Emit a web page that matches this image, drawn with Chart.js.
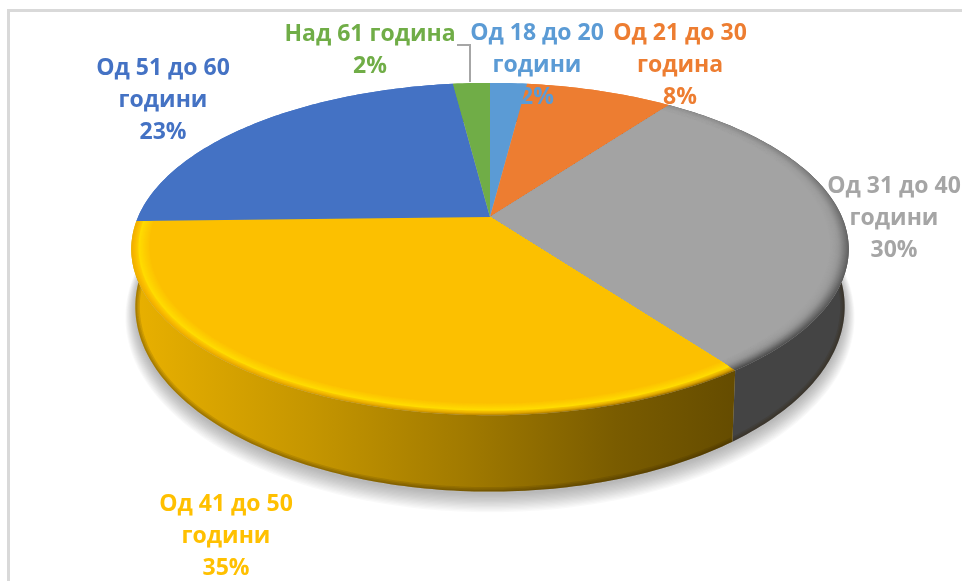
<!DOCTYPE html>
<html>
<head>
<meta charset="utf-8">
<script src="https://cdn.jsdelivr.net/npm/chart.js@4"></script>
<style>
    html, body { margin: 0; padding: 0; background: #fff; }
    #wrap { position: relative; width: 962px; height: 581px; overflow: hidden; }
</style>
</head>
<body>
<div id="wrap"><canvas id="age-chart" width="962" height="581"></canvas></div>
<script>
var categories = ["Од 18 до 20", "Од 21 до 30", "Од 31 до 40", "Од 41 до 50", "Од 51 до 60", "Над 61"];
var shares = [2, 8, 30, 34.6, 23.4, 2];
var labelTexts = [
    ["Од 18 до 20", "години", "2%"],
    ["Од 21 до 30", "година", "8%"],
    ["Од 31 до 40", "години", "30%"],
    ["Од 41 до 50", "години", "35%"],
    ["Од 51 до 60", "години", "23%"],
    ["Над 61 година", "2%"]
];
var sliceColors = ["#5B9BD5", "#ED7D31", "#A3A3A3", "#FCC000", "#4472C4", "#70AD47"];
var labelColors = ["#5B9BD5", "#ED7D31", "#A5A5A5", "#FFC000", "#4472C4", "#70AD47"];
var labelSpots = [[537, 33], [680, 33], [894, 186], [226, 504], [163, 68], [370, 34]];

// perspective of the disc, fitted by eye to the picture
var topRim = { cx: 490, cy: 217, rx: 352, ry: 160 };
var bottomRim = { cx: 490, cy: 271, rx: 348, ry: 178 };
var tilt = 0.193;

function project(rim, angle, r) {
    var u = Math.cos(angle) * r;
    var v = Math.sin(angle) * r;
    var w = 1 - tilt * v;
    return [rim.cx + rim.rx * u / w, rim.cy + rim.ry * v / w];
}

function traceArc(ctx, rim, from, to, r, first) {
    var steps = Math.max(2, Math.ceil(Math.abs(to - from) * 60));
    for (var i = 0; i <= steps; i++) {
        var p = project(rim, from + (to - from) * i / steps, r);
        if (i === 0 && first) ctx.moveTo(p[0], p[1]);
        else ctx.lineTo(p[0], p[1]);
    }
}

function traceSector(ctx, arc, r) {
    var apex = project(topRim, 0, 0);
    ctx.beginPath();
    ctx.moveTo(apex[0], apex[1]);
    traceArc(ctx, topRim, arc.startAngle, arc.endAngle, r, false);
    ctx.closePath();
}

function traceWall(ctx, from, to) {
    ctx.beginPath();
    traceArc(ctx, topRim, from, to, 1, true);
    traceArc(ctx, bottomRim, to, from, 1, false);
    ctx.closePath();
}

function wallPaint(ctx, index) {
    if (index === 2) return "#444444";
    if (index !== 3) return sliceColors[index];
    var g = ctx.createLinearGradient(135, 0, 735, 0);
    g.addColorStop(0, "#E8B000");
    g.addColorStop(0.3, "#C49500");
    g.addColorStop(0.55, "#A17A00");
    g.addColorStop(0.8, "#7A5C00");
    g.addColorStop(1, "#654C00");
    return g;
}

// the grey rim is pale at the back and turns dark towards the front
function rimPaint(ctx, index) {
    if (index !== 2) return wallPaint(ctx, index);
    var g = ctx.createLinearGradient(0, 105, 0, 370);
    g.addColorStop(0, "#909090");
    g.addColorStop(0.5, "#606060");
    g.addColorStop(1, "#444444");
    return g;
}

// bevel colour from the rim (0) inwards (1), laid over the wall colour
function bevelStyle(index, t) {
    if (index === 2) {
        return "rgba(163,163,163," + (0.08 + 0.3 * t).toFixed(2) + ")";
    }
    if (t < 0.35) {
        return "rgba(255," + Math.round(180 + 40 * t / 0.35) + ",0,0.3)";
    }
    var k = (t - 0.35) / 0.65;
    return "rgb(" + Math.round(255 - 3 * k) + "," + Math.round(222 - 30 * k) + ",0)";
}

var discPlugin = {
    id: "disc",
    beforeDatasetDraw: function(chart) {
        var ctx = chart.ctx;
        var arcs = chart.getDatasetMeta(0).data;

        // soft shadow under the disc, built up in layers
        for (var d = 14; d >= 0; d--) {
            var halo = { cx: 490, cy: 274 + d * 0.4, rx: 348 + d * 0.7, ry: 178 + d * 0.7 };
            ctx.beginPath();
            traceArc(ctx, halo, arcs[0].startAngle, arcs[arcs.length - 1].endAngle, 1, true);
            ctx.closePath();
            ctx.fillStyle = "rgba(0,0,0,0.022)";
            ctx.fill();
        }

        arcs.forEach(function(arc, i) {
            traceWall(ctx, arc.startAngle, arc.endAngle);
            ctx.fillStyle = wallPaint(ctx, i);
            ctx.fill();
            // darker edge where the wall meets the floor
            ctx.save();
            ctx.clip();
            [9, 6, 3].forEach(function(width) {
                ctx.beginPath();
                traceArc(ctx, bottomRim, arc.startAngle, arc.endAngle, 1, true);
                ctx.lineWidth = width;
                ctx.strokeStyle = "rgba(50,32,0,0.13)";
                ctx.stroke();
            });
            ctx.restore();
        });

        arcs.forEach(function(arc, i) {
            if (i === 2 || i === 3) {
                traceSector(ctx, arc, 1);
                ctx.fillStyle = rimPaint(ctx, i);
                ctx.fill();
                for (var n = 0; n <= 18; n++) {
                    var t = n / 18;
                    traceSector(ctx, arc, 1 - 0.05 * t);
                    ctx.fillStyle = bevelStyle(i, t);
                    ctx.fill();
                }
                traceSector(ctx, arc, 0.95);
            } else {
                traceSector(ctx, arc, 1);
            }
            ctx.fillStyle = sliceColors[i];
            ctx.fill();
        });
        return false;
    },
    afterDatasetsDraw: function(chart) {
        var ctx = chart.ctx;

        // leader line of the last label
        ctx.beginPath();
        ctx.moveTo(457, 45);
        ctx.lineTo(470, 45);
        ctx.lineTo(470, 82);
        ctx.lineWidth = 2;
        ctx.strokeStyle = "#A6A6A6";
        ctx.stroke();

        ctx.font = "bold 23px 'Open Sans'";
        ctx.textAlign = "center";
        ctx.textBaseline = "middle";
        labelTexts.forEach(function(lines, i) {
            ctx.fillStyle = labelColors[i];
            lines.forEach(function(line, j) {
                ctx.fillText(line, labelSpots[i][0], labelSpots[i][1] + j * 32);
            });
        });
    },
    afterDraw: function(chart) {
        var ctx = chart.ctx;
        ctx.fillStyle = "#D9D9D9";
        ctx.fillRect(7, 9, 955, 3);
        ctx.fillRect(7, 9, 3, 572);
    }
};

new Chart(document.getElementById("age-chart"), {
    type: "pie",
    data: {
        labels: categories,
        datasets: [{
            data: shares,
            backgroundColor: sliceColors,
            borderWidth: 0
        }]
    },
    options: {
        responsive: false,
        animation: false,
        plugins: {
            legend: { display: false },
            tooltip: { enabled: false }
        }
    },
    plugins: [discPlugin]
});
</script>
</body>
</html>
